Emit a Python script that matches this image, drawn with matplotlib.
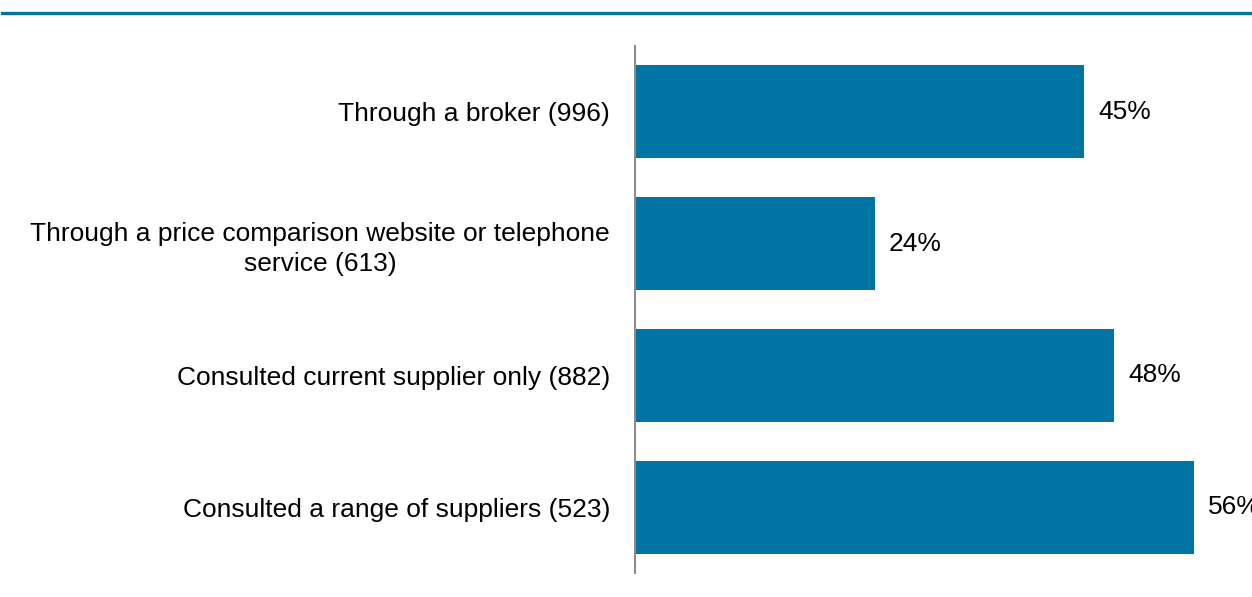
import matplotlib.pyplot as plt
from matplotlib.lines import Line2D

plt.rcParams['font.family'] = ['Liberation Sans', 'DejaVu Sans']

categories = ['Through a broker (996)',
              'Through a price comparison website or telephone\nservice (613)',
              'Consulted current supplier only (882)',
              'Consulted a range of suppliers (523)']
values = [45, 24, 48, 56]
value_labels = ['45%', '24%', '48%', '56%']

blue = '#0074A3'

fig = plt.figure(figsize=(12.52, 5.97), dpi=100)
ax = fig.add_axes([635 / 1252, 1 - 573 / 597, 1 - 635 / 1252, (573 - 46) / 597])

y = list(range(len(categories)))
ax.barh(y, values, height=0.706, color=blue, zorder=2)
ax.set_ylim(len(categories) - 0.5, -0.5)
ax.set_xlim(0, 61.8)

ax.set_yticks(y)
ax.set_yticklabels(categories, fontsize=19, multialignment='center', linespacing=1.3)
ax.tick_params(axis='y', length=0, pad=18)
ax.set_xticks([])

for s in ['top', 'right', 'bottom']:
    ax.spines[s].set_visible(False)
ax.spines['left'].set_color('#8c8c8c')
ax.spines['left'].set_linewidth(1.5)

for yi, v, lab in zip(y, values, value_labels):
    ax.annotate(lab, (v, yi), xytext=(10, 0), textcoords='offset points',
                va='center', ha='left', fontsize=19, annotation_clip=False)

fig.add_artist(Line2D([2 / 1252, 1], [1 - 13 / 597, 1 - 13 / 597],
                      color=blue, linewidth=2.4, transform=fig.transFigure))

fig.savefig('out.png', dpi=100)
